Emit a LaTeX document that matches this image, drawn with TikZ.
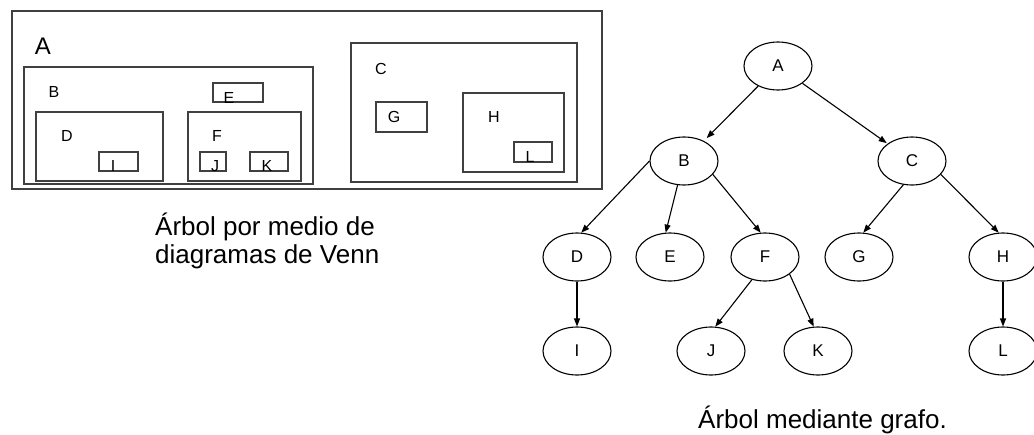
\documentclass[tikz,border=0pt]{standalone}
\usepackage{fontspec}
\setmainfont{Liberation Sans}
\usetikzlibrary{arrows.meta,shapes.geometric}
\begin{document}
\begin{tikzpicture}[x=1pt,y=-1pt,
  vbox/.style={draw=black!75,line width=1.6pt},
  ibox/.style={draw=black!75,line width=1.3pt},
  vlab/.style={inner sep=0pt,font=\fontsize{16}{18}\selectfont},
  tnode/.style={draw,ellipse,line width=1.1pt,minimum width=68pt,minimum height=48pt,inner sep=0pt,font=\fontsize{17}{19}\selectfont},
  tarrow/.style={line width=1.1pt,-{Triangle[length=8pt,width=6pt]}},
  captext/.style={inner sep=0pt,anchor=base west,font=\fontsize{26}{30}\selectfont}]
\useasboundingbox (0,0) rectangle (1034,434);
% Venn diagram
\draw[vbox] (12,11) rectangle (602,189);
\draw[ibox] (24,67) rectangle (313,184);
\draw[ibox] (213,83) rectangle (263,102);
\draw[ibox] (36,112) rectangle (163,181);
\draw[ibox] (99,152) rectangle (138,171);
\draw[ibox] (188,112) rectangle (301,181);
\draw[ibox] (200,152) rectangle (226,171);
\draw[ibox] (250,152) rectangle (288,171);
\draw[ibox] (351,43) rectangle (577,182);
\draw[ibox] (376,102) rectangle (427,132);
\draw[ibox] (463,93) rectangle (564,172);
\draw[ibox] (514,142) rectangle (552,162);
\node[vlab,font=\fontsize{24}{28}\selectfont] (vA) at (43,46) {A};
\node[vlab] (vB) at (54,92) {B};
\node[vlab] (vE) at (229,97.5) {E};
\node[vlab] (vD) at (67,136) {D};
\node[vlab] (vI) at (113,166) {I};
\node[vlab] (vF) at (217,136) {F};
\node[vlab] (vJ) at (215,166) {J};
\node[vlab] (vK) at (267,166) {K};
\node[vlab] (vC) at (381,69) {C};
\node[vlab] (vG) at (394,117) {G};
\node[vlab] (vH) at (494,117) {H};
\node[vlab] (vL) at (530,157) {L};
\node[captext] (cap1) at (155,235) {Árbol por medio de};
\node[captext] (cap2) at (155,263) {diagramas de Venn};
% Tree
\node[tnode] (A) at (778,66) {A};
\node[tnode] (B) at (684,161) {B};
\node[tnode] (C) at (912,161) {C};
\node[tnode] (D) at (577,257) {D};
\node[tnode] (E) at (670,257) {E};
\node[tnode] (F) at (765,257) {F};
\node[tnode] (G) at (859,257) {G};
\node[tnode] (H) at (1003,257) {H};
\node[tnode] (I) at (577,351) {I};
\node[tnode] (J) at (711,351) {J};
\node[tnode] (K) at (818,351) {K};
\node[tnode] (L) at (1003,351) {L};
\draw[tarrow,shorten >=4pt] (A) -- (B);
\draw[tarrow,shorten >=1pt] (A) -- (C);
\draw[tarrow] (B.west) -- (D.80);
\draw[tarrow] (B.255) -- (E.100);
\draw[tarrow] (B.-25) -- (F.100);
\draw[tarrow] (C.250) -- (G.80);
\draw[tarrow] (C.-25) -- (H.100);
\draw[tarrow] (D.south) -- (I.north);
\draw[tarrow] (F.240) -- (J.80);
\draw[tarrow] (F.-35) -- (K.100);
\draw[tarrow] (H.south) -- (L.north);
\node[captext] (cap3) at (698,428) {Árbol mediante grafo.};
\end{tikzpicture}
\end{document}
